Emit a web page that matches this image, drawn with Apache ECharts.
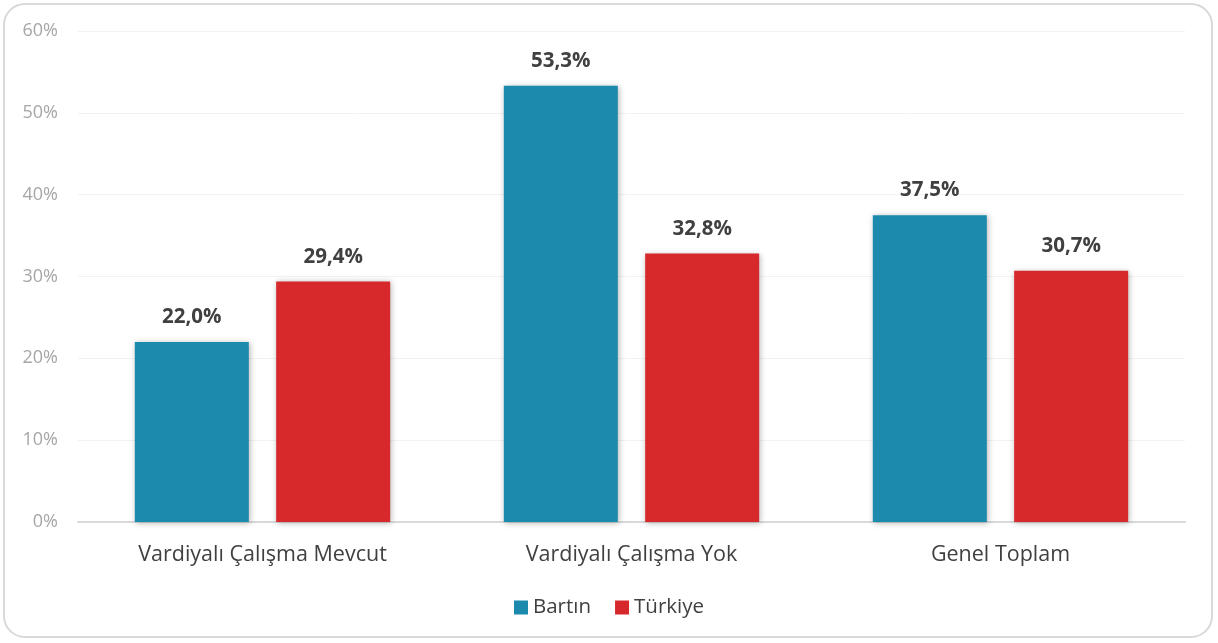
<!DOCTYPE html>
<html><head><meta charset="utf-8">
<script src="https://cdn.jsdelivr.net/npm/echarts@6/dist/echarts.min.js"></script>
<style>
html,body{margin:0;padding:0;background:#fff;}
#wrap{position:absolute;left:3px;top:3px;width:1210px;height:635px;border:2px solid #d9d9d9;border-radius:22px;box-sizing:border-box;}
#c{position:absolute;left:0;top:0;width:1218px;height:643px;}
</style></head>
<body>
<div id="wrap"></div>
<div id="c"></div>
<script>
const categories = ["Vardiyalı Çalışma Mevcut", "Vardiyalı Çalışma Yok", "Genel Toplam"];
const bartin = [22.0, 53.3, 37.5];
const turkiye = [29.4, 32.8, 30.7];
const yTicks = [0, 10, 20, 30, 40, 50, 60];

const fmt = v => v.toFixed(1).replace('.', ',') + '%';
const chart = echarts.init(document.getElementById('c'));
const labelStyle = {show:true, position:'top', distance:14, formatter:p=>fmt(p.value), color:'#404040', fontSize:20.5, fontWeight:'bold', fontFamily:'Open Sans'};
const shadow = {shadowBlur:6, shadowColor:'rgba(0,0,0,0.3)', shadowOffsetX:1, shadowOffsetY:1};
chart.setOption({
  animation:false,
  textStyle:{fontFamily:'Open Sans'},
  grid:{left:78, right:33, top:31, bottom:121, containLabel:false},
  legend:{bottom:20, left:'center', itemWidth:14, itemHeight:14, itemGap:24, icon:'rect',
    textStyle:{fontSize:20.5, color:'#404040', fontFamily:'Open Sans'}, data:['Bartın','Türkiye']},
  xAxis:{type:'category', data:categories, axisTick:{show:false},
    axisLine:{lineStyle:{color:'#d9d9d9', width:2}},
    axisLabel:{fontSize:21.5, color:'#404040', margin:22}},
  yAxis:{type:'value', min:yTicks[0], max:yTicks[yTicks.length-1], interval:10,
    axisLabel:{formatter:v=>v+'%', fontSize:18, color:'#a6a6a6', margin:20},
    splitLine:{lineStyle:{color:'#f2f2f2', width:1}}, axisLine:{show:false}, axisTick:{show:false}},
  series:[
    {name:'Bartın', type:'bar', data:bartin, barWidth:114, barGap:'24%', itemStyle:Object.assign({color:'#1b8aad'}, shadow), label:labelStyle},
    {name:'Türkiye', type:'bar', data:turkiye, barWidth:114, barGap:'24%', itemStyle:Object.assign({color:'#d7282b'}, shadow), label:labelStyle}
  ]
});
</script>
</body></html>
